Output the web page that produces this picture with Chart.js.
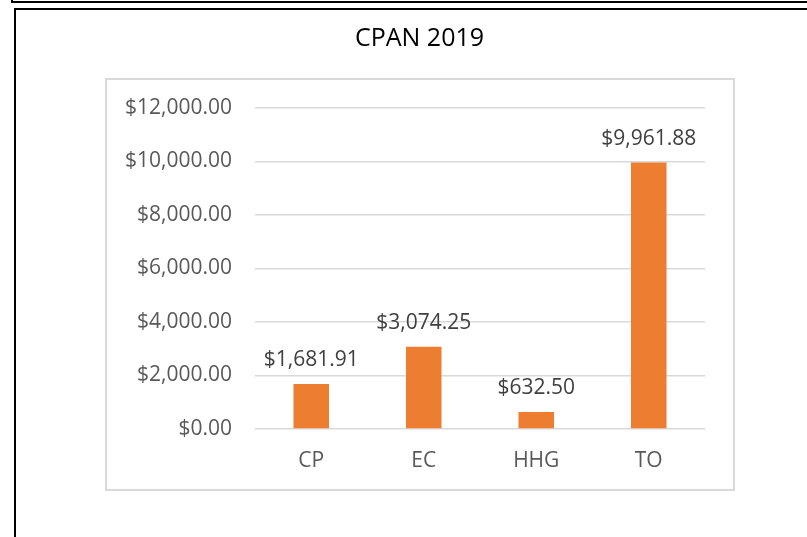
<!DOCTYPE html>
<html>
<head>
<meta charset="utf-8">
<script src="https://cdn.jsdelivr.net/npm/chart.js@4.4.0/dist/chart.umd.min.js"></script>
<style>
  body { margin: 0; background: #fff; overflow: hidden; }
  .cell { position: absolute; left: 11px; top: -11px; width: 900px; height: 10px; border: 2px solid #000; }
  .frame { position: absolute; left: 14px; top: 8px; width: 900px; height: 900px; border: 2px solid #000; }
  .plot { position: absolute; left: 105px; top: 78px; width: 630px; height: 413px; border: 2px solid #d9d9d9; box-sizing: border-box; }
  #billChart { position: absolute; left: 0; top: 0; }
</style>
</head>
<body>
<div class="cell"></div>
<div class="frame"></div>
<div class="plot"></div>
<canvas id="billChart" width="807" height="537"></canvas>
<script>
const categories = ['CP', 'EC', 'HHG', 'TO'];
const amounts = [1681.91, 3074.25, 632.50, 9961.88];
const yMax = 12000,
    yStep = 2000;
const chartTitle = 'CPAN 2019';

const money = v => '$' + Number(v).toLocaleString('en-US', { minimumFractionDigits: 2, maximumFractionDigits: 2 });

// value labels above each bar, plus the title (centred on the whole frame, not the canvas)
const barLabels = {
    id: 'barLabels',
    afterDatasetsDraw(chart) {
        const ctx = chart.ctx;
        const meta = chart.getDatasetMeta(0);
        ctx.save();
        ctx.textAlign = 'center';
        ctx.textBaseline = 'middle';
        ctx.font = '21px "Open Sans"';
        ctx.fillStyle = '#404040';
        meta.data.forEach((bar, i) => {
            ctx.fillText(money(amounts[i]), bar.x, bar.y - 24);
        });
        ctx.font = '25px "Open Sans"';
        ctx.fillStyle = '#000';
        ctx.fillText(chartTitle, 419.5, 39);
        ctx.restore();
    }
};

const dataBill = {
    labels: categories,
    datasets: [{
        label: chartTitle,
        backgroundColor: '#ED7D31',
        data: amounts,
        barPercentage: 0.316,
        categoryPercentage: 1
    }]
};

const configBill = {
    type: 'bar',
    data: dataBill,
    plugins: [barLabels],
    options: {
        responsive: false,
        animation: false,
        layout: { padding: { left: 0, right: 102, top: 108, bottom: 58 } },
        plugins: {
            legend: { display: false },
            tooltip: { enabled: false },
            title: { display: false }
        },
        scales: {
            x: {
                grid: { display: false, drawTicks: false },
                border: { display: false },
                ticks: { color: '#595959', padding: 19, font: { family: 'Open Sans', size: 21 } },
                afterFit: s => { s.height = 50; }
            },
            y: {
                min: 0,
                max: yMax,
                ticks: {
                    stepSize: yStep,
                    color: '#595959',
                    padding: 23,
                    font: { family: 'Open Sans', size: 21 },
                    callback: v => money(v)
                },
                grid: { color: '#d9d9d9', lineWidth: 1.5, drawTicks: false },
                border: { display: false },
                afterFit: s => { s.width = 255; }
            }
        }
    }
};

const myChartBill = new Chart(document.getElementById('billChart'), configBill);
</script>
</body>
</html>
